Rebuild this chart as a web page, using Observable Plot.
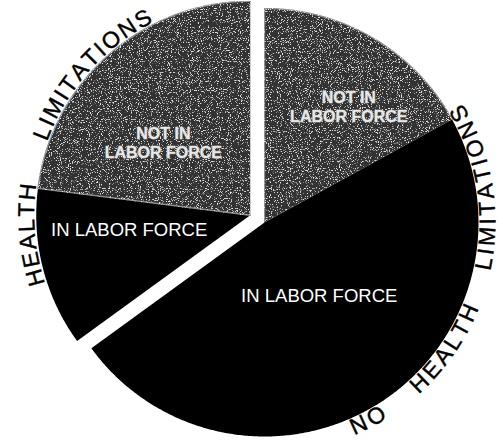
<!DOCTYPE html>
<html><head><meta charset="utf-8">
<script src="https://cdn.jsdelivr.net/npm/d3@7"></script>
<script src="https://cdn.jsdelivr.net/npm/@observablehq/plot@0.6"></script>
<style>html,body{margin:0;padding:0;background:#fff;}</style>
</head><body><div id="chart"></div>
<script>
// ---- data ----
const groups   = ["NO HEALTH LIMITATIONS", "NO HEALTH LIMITATIONS", "HEALTH LIMITATIONS", "HEALTH LIMITATIONS"];
const statuses = ["NOT IN LABOR FORCE", "IN LABOR FORCE", "IN LABOR FORCE", "NOT IN LABOR FORCE"];
const shares   = [17, 48, 12, 23]; // percent of the pie
const sliceLabels = ["NOT IN\nLABOR FORCE", "IN LABOR FORCE", "IN LABOR FORCE", "NOT IN\nLABOR FORCE"];
const groupLabels = ["NO HEALTH LIMITATIONS", "HEALTH LIMITATIONS"];
const explodedGroup = "HEALTH LIMITATIONS";

// ---- layout ----
const W = 503, H = 440, CX = 264, CY = 222, R = 214, EXPLODE = 16;
const GREY = "#333333";
const shadeFor = {"NOT IN LABOR FORCE": GREY, "IN LABOR FORCE": "#000000"};
const labelAngle  = [36, 143.5, 263, 310];
const labelRadius = [0.67, 0.43, 0.57, 0.53];
const arcCenter = {"NO HEALTH LIMITATIONS": 108, "HEALTH LIMITATIONS": 292.5};
const wordGap   = {"NO HEALTH LIMITATIONS": 37, "HEALTH LIMITATIONS": 46};
const ARC_R = R + 9.5, ARC_FONT = 23, ARC_SPACING = 2.5;
const FONT = "Liberation Sans, Arial, Helvetica, sans-serif";

const rad = d => d * Math.PI / 180;
const total = d3.sum(shares);
let acc = 0;
const slices = shares.map((v, i) => {
  const a0 = acc / total * 360; acc += v; const a1 = acc / total * 360;
  return {i, group: groups[i], status: statuses[i], a0, a1, label: sliceLabels[i]};
});
const gSl = slices.filter(s => s.group === explodedGroup);
const gMid = (d3.min(gSl, s => s.a0) + d3.max(gSl, s => s.a1)) / 2;
function origin(group) {
  if (group !== explodedGroup) return [0, 0];
  const k = EXPLODE / R;
  return [k * Math.sin(rad(gMid)), k * Math.cos(rad(gMid))];
}

// wedge outlines
const pts = [];
slices.forEach(s => {
  const [ox, oy] = origin(s.group);
  pts.push({id: s.i, x: ox, y: oy});
  const n = Math.ceil((s.a1 - s.a0) / 0.5);
  for (let k = 0; k <= n; k++) {
    const a = rad(s.a0 + (s.a1 - s.a0) * k / n);
    pts.push({id: s.i, x: ox + Math.sin(a), y: oy + Math.cos(a)});
  }
});

// slice label anchors
slices.forEach(s => {
  const [ox, oy] = origin(s.group);
  const a = rad(labelAngle[s.i]), r = labelRadius[s.i];
  s.lx = ox + r * Math.sin(a); s.ly = oy + r * Math.cos(a);
});

// curved group labels, one glyph at a time
const ctx = document.createElement("canvas").getContext("2d");
ctx.font = `${ARC_FONT}px "Liberation Sans"`;
const glyphs = [];
groupLabels.forEach(label => {
  const [ox, oy] = origin(label);
  const mid = arcCenter[label], gap = wordGap[label];
  const flip = mid > 90 && mid < 270;
  const words = label.split(" ");
  const wl = words.map(w => Array.from(w).map(c => ctx.measureText(c).width + ARC_SPACING));
  const totalLen = d3.sum(wl, a => d3.sum(a) - ARC_SPACING) + gap * (words.length - 1);
  const dir = flip ? -1 : 1;
  let pos = -totalLen / 2;
  words.forEach((w, wi) => {
    Array.from(w).forEach((c, ci) => {
      const cw = wl[wi][ci] - ARC_SPACING;
      const th = mid + dir * (pos + cw / 2) / ARC_R * 180 / Math.PI;
      const rr = ARC_R / R;
      glyphs.push({c, x: ox + rr * Math.sin(rad(th)), y: oy + rr * Math.cos(rad(th)), rot: flip ? th - 180 : th});
      pos += wl[wi][ci];
    });
    pos += gap - ARC_SPACING;
  });
});

const marks = slices.map(s => Plot.line(pts.filter(p => p.id === s.i), {
  x: "x", y: "y", fill: shadeFor[s.status],
  stroke: s.status === "NOT IN LABOR FORCE" ? "#8f8f8f" : "none", strokeWidth: 1.4
}));
marks.push(Plot.text(slices.filter(s => s.status === "NOT IN LABOR FORCE"), {
  x: "lx", y: "ly", text: "label", fill: "#e8e8e8", fontSize: 16, fontWeight: "bold",
  lineHeight: 1.2, textAnchor: "middle", stroke: "#909090", strokeWidth: 0.8
}));
marks.push(Plot.text(slices.filter(s => s.status === "IN LABOR FORCE"), {
  x: "lx", y: "ly", text: "label", fill: "white", fontSize: 18.5, textAnchor: "middle"
}));
marks.push(Plot.text(glyphs, {
  x: "x", y: "y", text: "c", rotate: "rot", fill: "black", fontSize: ARC_FONT,
  stroke: "black", strokeWidth: 0.4, textAnchor: "middle", lineAnchor: "middle"
}));

const chart = Plot.plot({
  width: W, height: H, margin: 0,
  x: {domain: [-CX / R, (W - CX) / R], axis: null},
  y: {domain: [-(H - CY) / R, CY / R], axis: null},
  style: {background: "white", fontFamily: FONT},
  marks
});

// halftone-like speckle on the grey wedges
const NS = "http://www.w3.org/2000/svg";
const defs = document.createElementNS(NS, "defs");
defs.innerHTML = `<filter id="speckle" x="0" y="0" width="1" height="1">
  <feTurbulence type="fractalNoise" baseFrequency="0.9" numOctaves="2" seed="7" result="n"/>
  <feColorMatrix in="n" type="matrix" values="0 0 0 0 0.8  0 0 0 0 0.8  0 0 0 0 0.8  0 0 0 7 -4.1" result="w"/>
  <feComposite in="w" in2="SourceGraphic" operator="in" result="ws"/>
  <feMerge><feMergeNode in="SourceGraphic"/><feMergeNode in="ws"/></feMerge>
</filter>`;
chart.insertBefore(defs, chart.firstChild);
chart.querySelectorAll(`g[fill="${GREY}"] path`).forEach(p => p.setAttribute("filter", "url(#speckle)"));
document.getElementById("chart").appendChild(chart);
</script>
</body></html>
